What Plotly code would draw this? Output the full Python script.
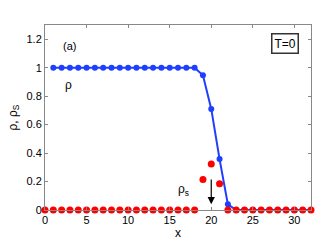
import plotly.graph_objects as go

x_rho = list(range(1, 33))
rho = [1.0]*18 + [0.947, 0.71, 0.358, 0.04] + [0.0]*10
x_rhos = list(range(0, 33))
rho_s = [0.0]*19 + [0.215, 0.323, 0.184] + [0.0]*11

x_ticks = [0, 5, 10, 15, 20, 25, 30]
y_ticks = [0, 0.2, 0.4, 0.6, 0.8, 1.0, 1.2]
y_tick_text = ["0", "0.2", "0.4", "0.6", "0.8", "1", "1.2"]

font = "Liberation Sans, Arial, sans-serif"

fig = go.Figure()
fig.add_trace(go.Scatter(x=x_rho, y=rho, mode="lines+markers",
                         line=dict(color="#1f3fff", width=2),
                         marker=dict(color="#1f3fff", size=6),
                         cliponaxis=False, showlegend=False))
fig.add_trace(go.Scatter(x=x_rhos, y=rho_s, mode="markers",
                         marker=dict(color="#ff0000", size=7),
                         cliponaxis=False, showlegend=False))

fig.add_annotation(x=3, y=1.15, text="(a)", showarrow=False, xanchor="center",
                   font=dict(size=11, color="black", family=font))
fig.add_annotation(x=2.8, y=0.88, text="ρ", showarrow=False,
                   font=dict(size=12, color="black", family=font))
fig.add_annotation(x=16.7, y=0.14, text="ρ<sub>s</sub>", showarrow=False,
                   font=dict(size=12, color="black", family=font))
fig.add_annotation(x=20, y=0.04, ax=20, ay=0.225, axref="x", ayref="y",
                   text="", showarrow=True, arrowhead=2, arrowsize=1.2,
                   arrowwidth=1.2, arrowcolor="black")
fig.add_annotation(x=28.9, y=1.17, text="T=0", showarrow=False,
                   font=dict(size=12, color="black", family=font),
                   bordercolor="#333333", borderwidth=1.5, borderpad=2,
                   bgcolor="white")

axis_common = dict(showline=True, linecolor="#888888", linewidth=1, mirror="ticks",
                   ticks="inside", ticklen=3, tickcolor="#888888",
                   showgrid=False, zeroline=False,
                   tickfont=dict(size=11, color="black", family=font))

fig.update_xaxes(range=[0, 32], tickvals=x_ticks,
                 title=dict(text="x", font=dict(size=12, color="black", family=font), standoff=2),
                 **axis_common)
fig.update_yaxes(range=[0, 1.3], tickvals=y_ticks, ticktext=y_tick_text,
                 title=dict(text="ρ, ρ<sub>S</sub>", font=dict(size=12, color="black", family=font), standoff=6),
                 **axis_common)

fig.update_layout(width=332, height=249, margin=dict(l=42, r=21, t=25, b=39),
                  plot_bgcolor="white", paper_bgcolor="white")

fig.write_html("out.html", config={"displayModeBar": False},
               post_script="document.body.style.margin='0px';document.body.style.padding='0px';")
